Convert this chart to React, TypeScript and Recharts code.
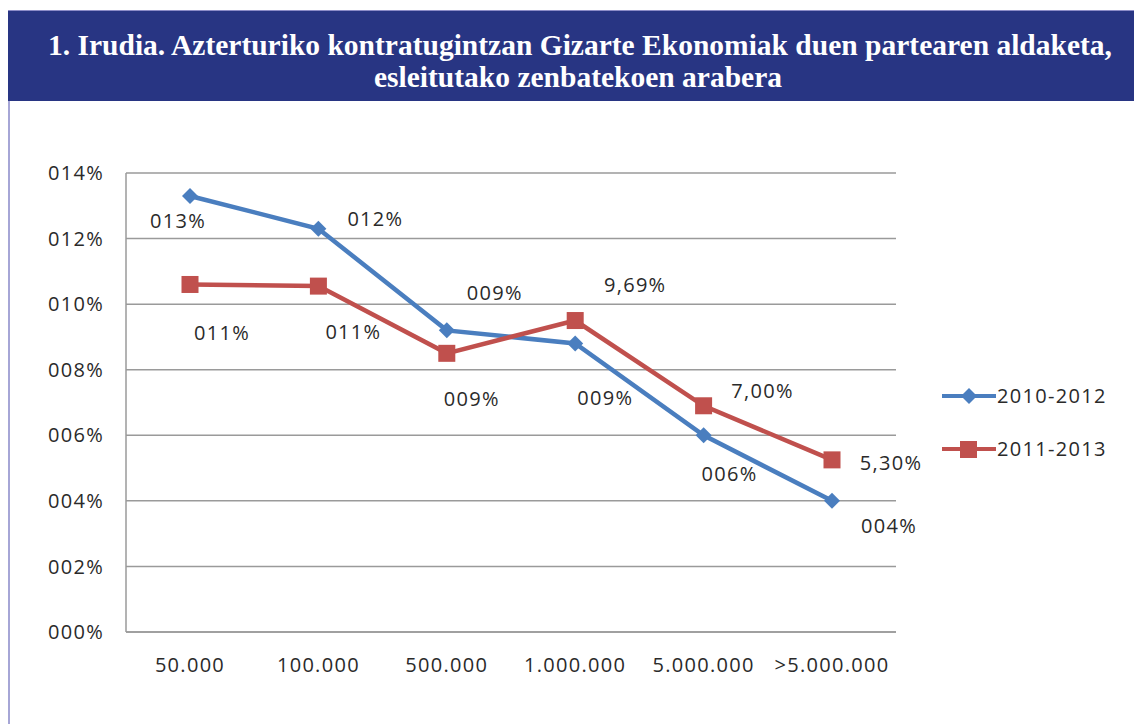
import { LineChart, Line, XAxis, YAxis, CartesianGrid } from 'recharts';

const categories = ['50.000', '100.000', '500.000', '1.000.000', '5.000.000', '>5.000.000'];
const serie2010 = [13.3, 12.3, 9.2, 8.8, 6.0, 4.0];
const serie2011 = [10.6, 10.55, 8.5, 9.5, 6.9, 5.25];
const labels2010 = ['013%', '012%', '009%', '009%', '006%', '004%'];
const labels2011 = ['011%', '011%', '009%', '9,69%', '7,00%', '5,30%'];
const yTicks = [0, 2, 4, 6, 8, 10, 12, 14];
const yTickLabels = ['000%', '002%', '004%', '006%', '008%', '010%', '012%', '014%'];

const BLUE = '#4a7ebf';
const RED = '#c0504d';
const FONT = '"Open Sans", sans-serif';
const TXT = { fontFamily: FONT, fontSize: 20, fill: '#2a2a2a', letterSpacing: 1.3 };

// etiketen desplazamenduak (Excel-eko kokapena imitatzeko)
const off2010 = [[-12, 25], [57, -10], [48, -38], [30, 54], [26, 38], [57, 25]];
const off2011 = [[32, 48], [35, 45], [25, 45], [60, -36], [59, -15], [59, 3]];

const data = categories.map((name, i) => ({
  name,
  a: serie2010[i],
  b: serie2011[i],
}));

const makeLabel = (texts: string[], offs: number[][]) => (props: any) => {
  const { x, y, index } = props;
  const [dx, dy] = offs[index];
  return (
    <text
      x={x + dx}
      y={y + dy}
      textAnchor="middle"
      dominantBaseline="central"
      fontFamily={FONT}
      fontSize={20}
      letterSpacing={1.3}
      fill="#2a2a2a"
    >
      {texts[index]}
    </text>
  );
};

const Diamond = (props: any) => {
  const { cx, cy } = props;
  return <path d={`M${cx - 8},${cy} L${cx},${cy - 8} L${cx + 8},${cy} L${cx},${cy + 8} Z`} fill={BLUE} />;
};

const Square = (props: any) => {
  const { cx, cy } = props;
  return <rect x={cx - 8.5} y={cy - 8.5} width={17} height={17} fill={RED} />;
};

const legendItems = [
  { name: '2010-2012', color: BLUE, square: false },
  { name: '2011-2013', color: RED, square: true },
];

const LegendBox = () => (
  <div style={{ position: 'absolute', left: 942, top: 369, fontFamily: FONT, fontSize: 20, color: '#2a2a2a' }}>
    {legendItems.map((it) => (
      <div key={it.name} style={{ display: 'flex', alignItems: 'center', height: 53 }}>
        <svg width={54} height={20}>
          <line x1={0} y1={10} x2={54} y2={10} stroke={it.color} strokeWidth={4} />
          {it.square ? (
            <rect x={18} y={2} width={17} height={17} fill={it.color} />
          ) : (
            <path d="M19,10 L27,2 L35,10 L27,18 Z" fill={it.color} />
          )}
        </svg>
        <span style={{ marginLeft: 1, letterSpacing: 1.3 }}>{it.name}</span>
      </div>
    ))}
  </div>
);

export default function App() {
  return (
    <div style={{ position: 'absolute', left: 0, top: 0, width: 1134, height: 724, background: '#fff', overflow: 'hidden' }}>
      <div style={{ position: 'absolute', left: 8, top: 10, width: 2, height: 714, background: '#a6a6d6' }} />
      <div
        style={{
          position: 'absolute',
          left: 8,
          top: 10,
          width: 1126,
          height: 91,
          background: '#283583',
          borderTop: '1px solid #8c8cc8',
          color: '#fff',
          fontFamily: '"Liberation Serif", serif',
          fontWeight: 'bold',
          fontSize: 29.5,
          lineHeight: '32px',
          textAlign: 'center',
          paddingTop: 18,
          boxSizing: 'border-box',
        }}
      >
        <div style={{ paddingLeft: 18, whiteSpace: 'nowrap' }}>
          1. Irudia. Azterturiko kontratugintzan Gizarte Ekonomiak duen partearen aldaketa,
        </div>
        <div style={{ paddingLeft: 14 }}>esleitutako zenbatekoen arabera</div>
      </div>
      <div style={{ position: 'absolute', left: 0, top: 0 }}>
        <LineChart width={1134} height={724} data={data} margin={{ top: 173, right: 238, bottom: 52, left: 0 }}>
          <CartesianGrid vertical={false} stroke="#9a9a9a" strokeWidth={1.5} />
          <XAxis
            dataKey="name"
            height={40}
            padding={{ left: 64, right: 64 }}
            axisLine={{ stroke: '#9a9a9a', strokeWidth: 1.5 }}
            tickLine={false}
            tickSize={0}
            tickMargin={26}
            interval={0}
            tick={TXT}
          />
          <YAxis
            width={126}
            domain={[0, 14]}
            ticks={yTicks}
            interval={0}
            tickFormatter={(v: number) => yTickLabels[yTicks.indexOf(v)]}
            axisLine={{ stroke: '#9a9a9a', strokeWidth: 1.5 }}
            tickLine={false}
            tickSize={0}
            tickMargin={22}
            tick={TXT}
          />
          <Line
            name="2010-2012"
            dataKey="a"
            stroke={BLUE}
            strokeWidth={4.5}
            dot={<Diamond />}
            activeDot={false}
            label={makeLabel(labels2010, off2010)}
            isAnimationActive={false}
          />
          <Line
            name="2011-2013"
            dataKey="b"
            stroke={RED}
            strokeWidth={4.5}
            dot={<Square />}
            activeDot={false}
            label={makeLabel(labels2011, off2011)}
            isAnimationActive={false}
          />
        </LineChart>
      </div>
      <LegendBox />
    </div>
  );
}
